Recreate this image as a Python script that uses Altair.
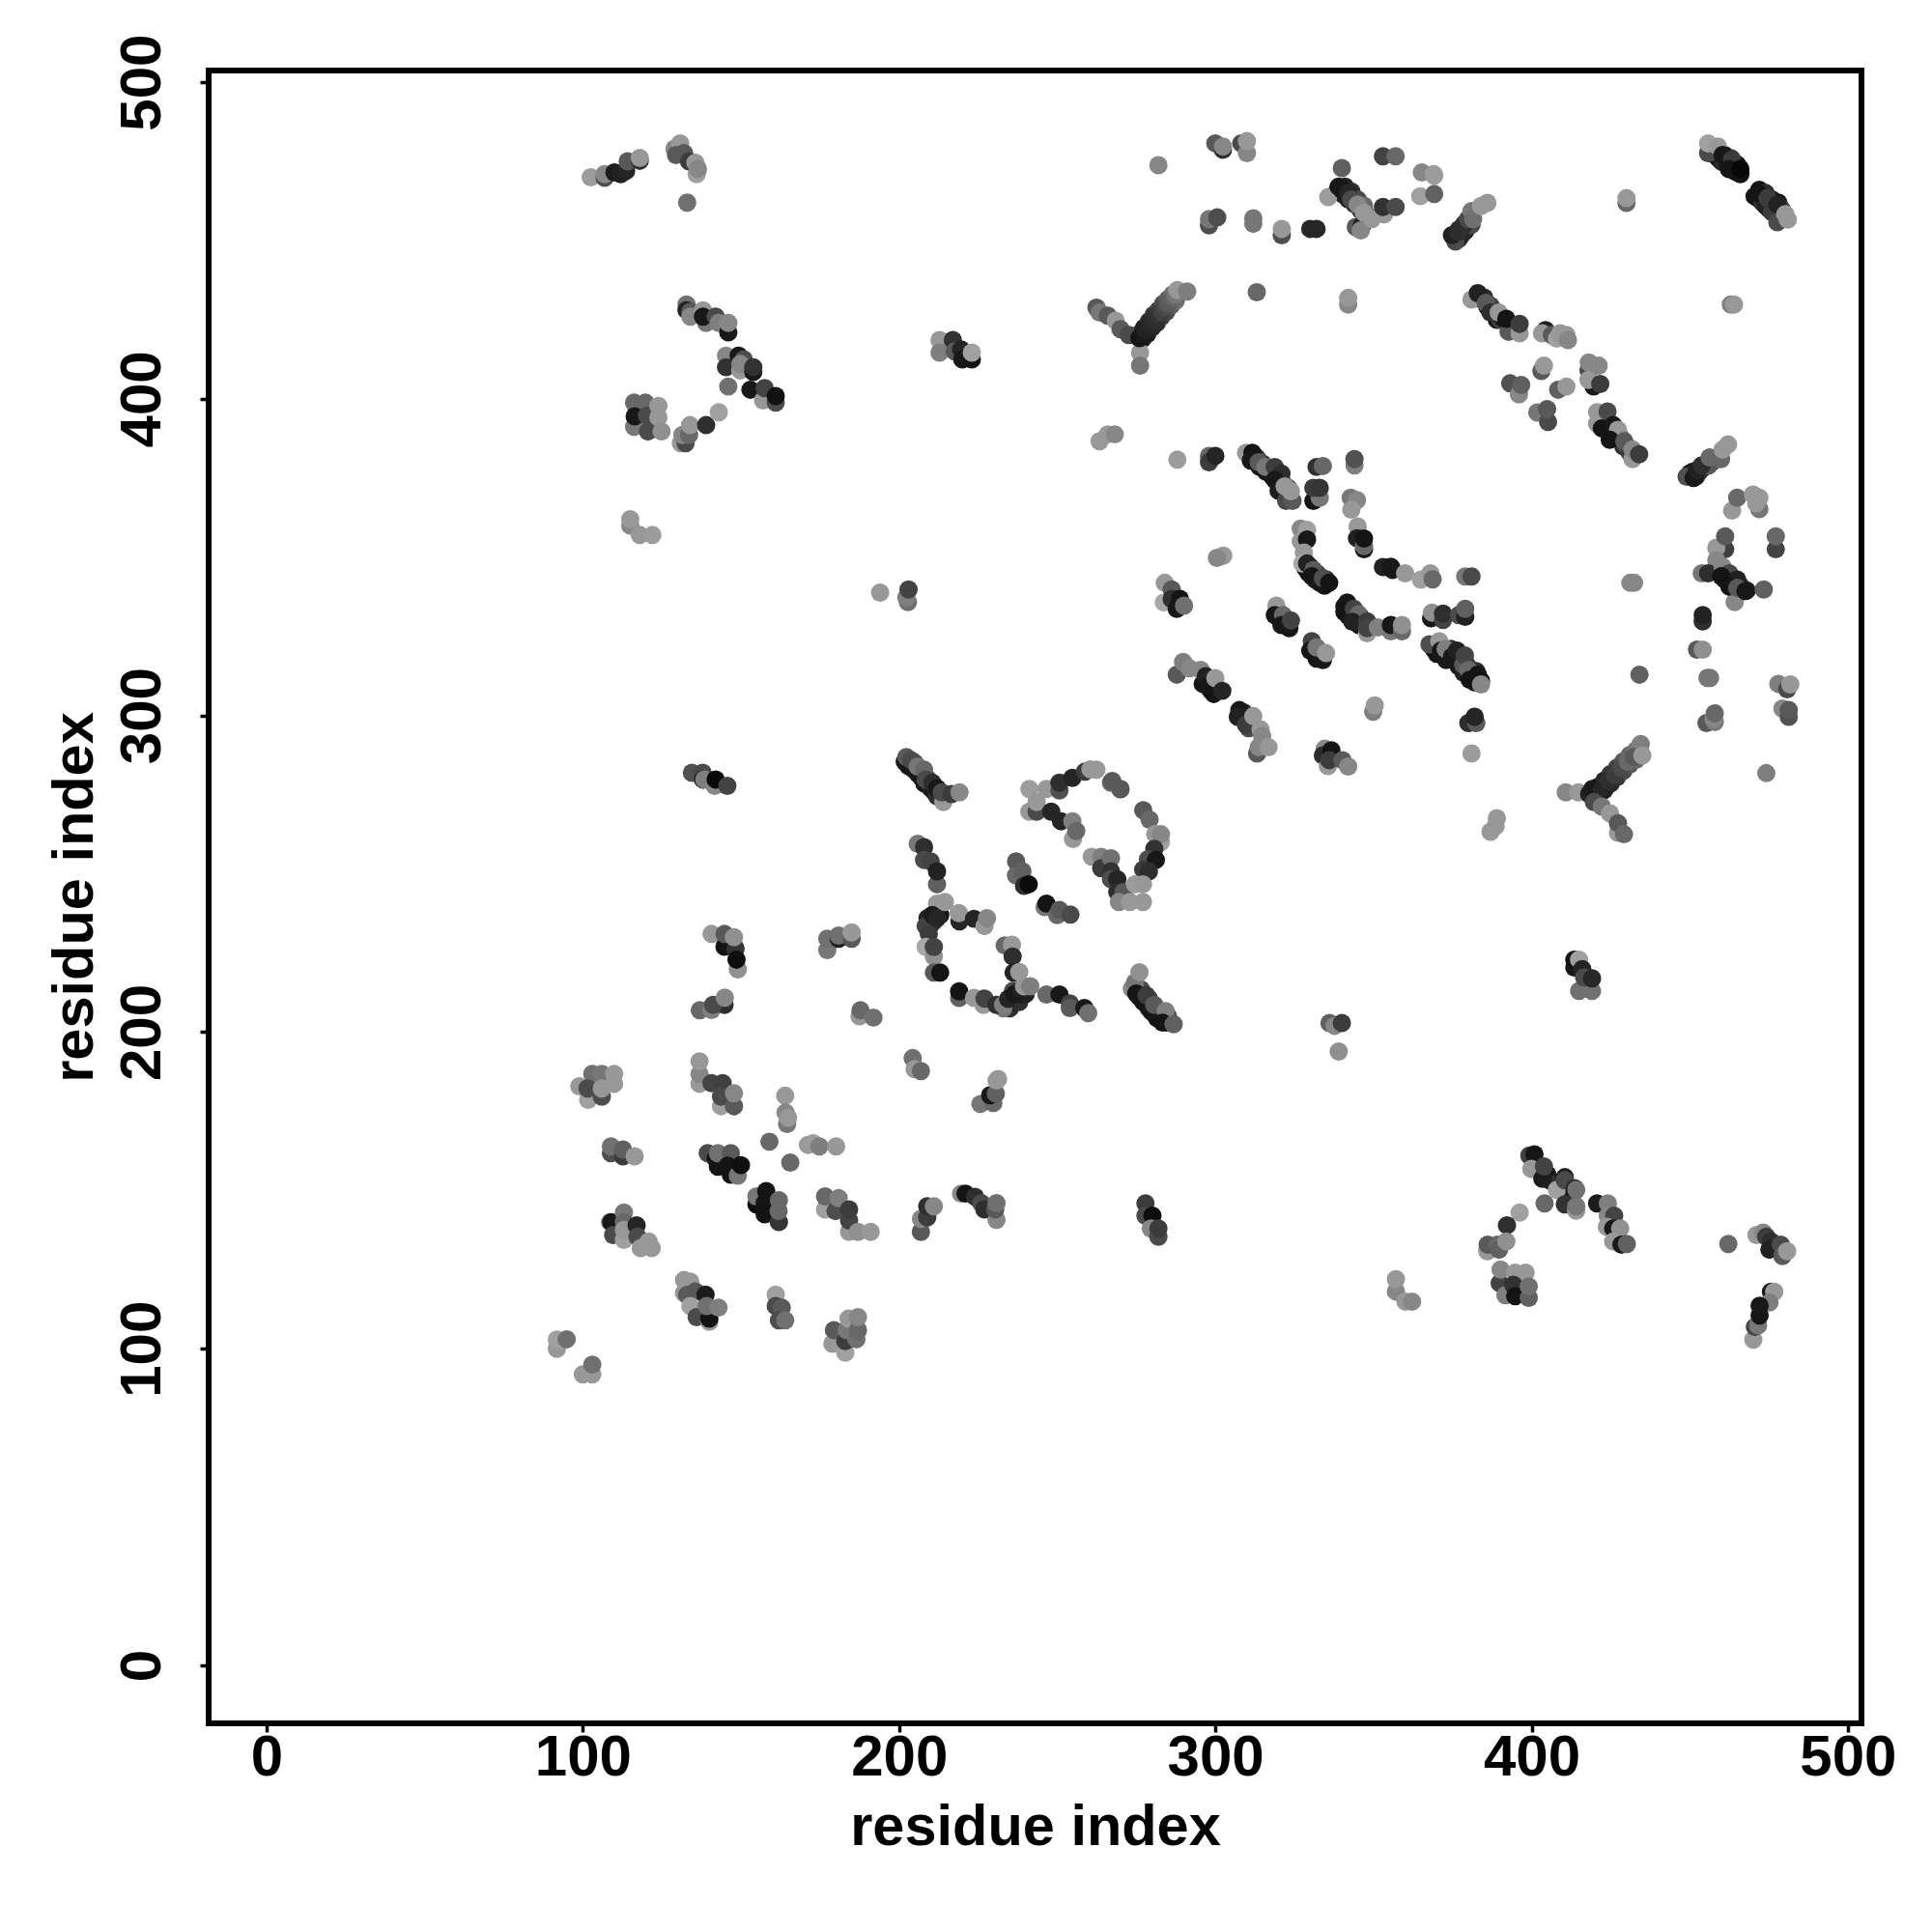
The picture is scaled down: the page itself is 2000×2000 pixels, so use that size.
import altair as alt
import pandas as pd

# (residue x, residue y, grey level 0-255), region by region
# Contacts inside the dense diagonal strips; they lie underneath the rest.
dense_strips = [
 (457,478,0x40),(458,477,0x15),(459,476,0x10),(460,475,0x20),(461,474.5,0x30),(462,474,0x15),(463,473,0x10),(464,472,0x05),(465,471.5,0x08),(466,471,0x10),
 (459,478,0x20),(461,477,0x10),(463,476,0x30),(465,474,0x08),
 (470.5,464,0x10),(472,463,0x10),(473,462,0x30),(474,461,0x20),(475,460,0x25),(476,459,0x40),(472,466,0x10),(474,465,0x30),(476,463,0x20),(478,462,0x10),(479,460,0x50),(478,458,0x40),
 (276,420.5,0x18),(277.5,422.5,0x22),(279,424.5,0x30),(280.5,426.5,0x38),(282,428,0x45),(283.5,430,0x58),(285,431.5,0x68),(286.5,433,0x78),
 (277,419,0x12),(278.5,420.5,0x1a),(280,422.5,0x25),(281.5,424,0x30),(283,426,0x40),(284.5,427.5,0x50),(286,429.5,0x65),(287.5,431,0x78),
 (421,277.5,0x20),(423,279.5,0x28),(425,281.5,0x38),(427,283.5,0x48),(429,285.5,0x60),(431,287.5,0x70),(433,289,0x80),
 (423,276.5,0x1a),(425,278.5,0x28),(427,280.5,0x38),(429,282.5,0x50),(431,284.5,0x60),(433,286,0x70),
 (376,451,0x18),(377,450.5,0x30),(378,452,0x20),(379,453,0x28),(380,454.5,0x30),(381,455,0x50),(377,453.5,0x30),(379,455.5,0x38),
 (384,431.5,0x15),(385,432,0x30),(386,429,0x15),(387,429.5,0x50),(388,428,0x40),(389,425,0x10),(390,425,0x40),(391,425.5,0x10),(393,423,0x10),(394,423,0x30),(395,421.5,0x10),
 (423,393,0x10),(424,392,0x15),(425,390,0x10),(426,389,0x20),(427,388,0x15),(428,388,0x50),(429,385,0x30),(430,385,0x50),(431,383,0x40),
 (450,376.5,0x30),(451,377,0x18),(452,375.5,0x30),(453,377,0x20),(454,378,0x30),(455,379,0x40),(456,379,0x60),(457,380,0x60),
 (311,382,0x15),(313,381.5,0x40),(314,378.5,0x10),(315,379.5,0x30),(316,377,0x15),(317,378,0x60),(318,375.5,0x15),(319,376.5,0x30),(320,373,0x15),(321,374,0x30),(322,371,0x15),(323,372,0x70),
 (328.5,346.5,0x15),(330,347,0x30),(329.5,345,0x10),(332,345,0x40),(331.5,343,0x10),(333,344,0x30),(335,343,0x30),(334.5,341,0x10),
 (340.8,334.5,0x15),(342,334,0x30),(342,331.5,0x10),(344,332,0x20),(344,330.5,0x15),(346,331,0x30),(345.5,328.5,0x10),(347,329,0x30),
 (369,321,0x10),(370,319.5,0x10),(372.5,319,0x15),(373,317.5,0x15),(374.5,321,0x30),(376,317,0x20),(377,315.5,0x15),(378.5,313.5,0x20),(379.5,316,0x40),(381,312,0x15),(382,310.5,0x10),(382.5,314,0x30),(384,311,0x15),
 (296,310,0x15),(298,310,0x20),(298.5,308,0x10),(300,309,0x15),(308.5,299,0x20),(309,301,0x30),(310.5,296,0x50),
 (203,284,0x10),(204.5,283,0x15),(205,285,0x50),(206,281.5,0x15),(207,280.5,0x15),(208,278.5,0x15),(209,280,0x50),(210,277,0x20),(211,276,0x15),(212,274.5,0x30),(214,274.5,0x30),
 (275,214.5,0x10),(276,211,0x10),(276.5,213.5,0x50),(278,209,0x15),(279,207.5,0x10),(279,210.5,0x40),(280.5,206,0x10),(281.5,204.5,0x10),(282,207,0x50),(284.5,203,0x15),(285,205,0x50),
 (338.5,465.5,0x10),(340.5,464.5,0x18),(341,467,0x20),(342,463,0x20),(343,465.5,0x30),(344,461.5,0x30),(345,463,0x50),(346,459.5,0x40),(347,461,0x70),(348,458,0x60),
 (405,155,0x10),(406,153,0x15),(408,152,0x30),(409,150,0x15),(411,149,0x15),(412,147,0x30),
 (234,209,0x25),(235,207.5,0x30),(236,209.5,0x15),(237,211,0x20),(238,209.5,0x30),(239,212,0x15),(240,212,0x20),(236,213,0x50),
 (209,236,0x25),(210,234,0x15),(211,235,0x30),(212,238,0x30),(213,237,0x15),(209.5,233,0x35),
 (461,343,0x10),(463,342,0x15),(464,340,0x10),(466,341,0x30),(466,339,0x10),(468,339.5,0x20),
]
top_left = [
 (102.5,470,0xa4),(106.9,469.8,0x55),(106.9,471,0x90),(110,471.5,0x1a),(112,471,0x20),(113.7,472,0x25),
 (114.2,475,0x60),(118,475.2,0x30),(118,476.1,0xa0),
 (129,479,0x90),(130.8,480.7,0xa0),(129.5,477,0x60),(132,477.6,0x60),(133.6,475,0x40),(135.6,474.6,0xa0),
 (136,471,0xa8),(136.4,472.6,0x90),(133,462,0x78),
 (132.8,429.8,0x78),(132.8,428,0x20),(134,427.5,0x60),(134,426,0x90),(138,428,0xa0),(139,424,0x80),(138,426,0x15),
 (142,426,0x50),(143,424,0x88),(146,421,0x15),(146,424,0x90),
 (145.3,413.6,0x90),(145.3,410,0x35),(149.8,409,0xa0),(149.3,413.6,0x15),(150.9,412.5,0x55),(149.8,411,0x90),
 (153.9,408.5,0x15),(153.9,410,0x35),(146,403.9,0x78),(153,402.9,0x15),(157,399.5,0xa0),(157.5,403.4,0x48),
 (161,398.8,0x50),(161,400.9,0x0e),
 (116.2,398.8,0x70),(119.8,398.8,0x70),(116.2,391.2,0x80),(116.4,394.5,0x15),(120.3,394.7,0x50),(120.6,389.7,0x50),
 (123.9,397.8,0xa0),(123.9,394.2,0xa0),(124.9,389.7,0x98),
 (131,386,0xa0),(132.5,386,0x50),(131.5,388.6,0x90),(133.6,388.6,0x70),(133.9,391.7,0xa0),(139,391.7,0x30),(143,395.8,0xa8),
 (115,360,0x90),(115,362,0xa0),(118,357,0xa0),(122,357,0xa4),
 (212.8,418.6,0xa0),(212.8,414.6,0x88),(217,418.6,0x35),(217.6,415,0x60),(219.6,415.6,0x25),(220,412.5,0x15),
 (223,412.5,0x10),(223,414.6,0xa8),
]
top_middle = [
 (282,473.8,0x90),(300,480.7,0x60),(302.4,478.7,0x30),(302.4,479.7,0x90),(308.2,480.7,0x50),(310,477.6,0x90),(310,481.4,0xa0),
 (298,454.8,0x55),(298,456.8,0x80),(300.6,457.3,0x55),(312,455.3,0x80),(312,457,0x80),(321,451.7,0x55),(321,453.7,0xa0),
 (330,453.7,0x28),(332,453.7,0x28),(340,472.9,0x68),(335.7,463.7,0xa4),
 (339,467,0x15),(340,466,0x15),(342,465,0x25),(344.4,454.3,0x60),(346.4,454.8,0x20),(346,453.2,0x90),
 (343,463,0x50),(345,461.4,0x90),(347,458.8,0xa0),(349.5,456.8,0xa0),
 (353,476.6,0x48),(357,476.6,0x70),(353.4,458.3,0xa0),(353,460.6,0x35),(357,460.6,0x50),
 (365.3,471.5,0x90),(369,471,0xa0),(369.2,470.5,0xa4),(364.8,464,0xa8),(369.2,464.7,0x6a),
 (262.4,428.8,0x60),(263.4,427.3,0x80),(266,426.3,0x60),(268.5,424.7,0xa0),(270,422,0x60),(272.6,420.2,0x50),
 (276.2,414.6,0xa0),(276.2,410.5,0x80),
 (276,419.2,0x10),(277,420.5,0x15),(278,421.5,0x20),(279,423,0x25),(280,424,0x2a),(281,425,0x30),(282,426.5,0x35),
 (283,427.5,0x45),(284,429,0x50),(285,430,0x60),(286,431,0x65),(287,432,0x70),(287.5,433,0x80),(288,434.4,0xa0),(291.1,433.9,0x88),
 (313.1,433.7,0x70),(342,429.8,0x90),(342,431.9,0xa0),
 (263.4,386.6,0xa0),(266,388.8,0xa0),(268.2,388.8,0x90),
 (288,380.8,0xa4),(298,382,0x70),(298,380,0x40),(300,382,0x25),
 (309.7,383,0xa0),(311.7,383,0x10),(311.2,380.5,0x15),(313.7,380,0x60),(315.8,378.5,0x80),(318.8,378.5,0x40),
 (320.9,376.4,0x30),(318.8,374.4,0x15),(320,371,0x1a),(322.4,367.8,0x50),(324.4,367.8,0x60),(321.9,372.4,0xa0),(323.9,370.8,0xa0),
 (331,367.8,0x10),(333,368.8,0x80),(331,371.9,0x40),(333,371.9,0x38),(332,378.5,0x35),(334,378.8,0x70),
 (344,379,0x88),(344,381,0x58),
]
top_right = [
 (375.9,449.7,0x50),(374.8,451.7,0x20),(376.9,452.7,0x30),(378.4,454.8,0x30),(379.9,456.8,0x50),(381,459.3,0x80),
 (381.5,456.8,0x78),(384,460.9,0xa0),(386,461.9,0xa0),
 (430,461.9,0x70),(430,463.4,0xa0),
 (455.8,477.6,0x50),(455.8,480.7,0xa8),(458.9,479.7,0xa0),(460.4,477,0x15),(463.4,475.6,0x40),(462.4,472.6,0x10),(466,472.6,0x05),
 (471.6,465,0x10),(474.6,463.4,0x40),(477.7,461.4,0x20),(477.7,455.8,0x50),(480.2,458.3,0xa0),(481,456.6,0xa0),
 (463,429.8,0x88),(464,429.8,0xa0),
 (381,431.4,0xa0),(383,433.4,0x20),(385.5,430.3,0x60),(387,427.3,0x30),(389.6,427.3,0xa0),(392.7,421.2,0x60),
 (392,425.3,0x10),(396.2,420.7,0xa0),(396.2,423.7,0x40),
 (404.4,421.7,0x20),(403.3,420.7,0xa0),(406.4,420.2,0x60),(408,419,0xa8),(409,420.7,0xa0),(411,420.2,0xa0),(411.5,418.6,0x90),
 (403.1,408.8,0x60),(403.9,410.5,0xa0),(393.2,404.9,0x58),(396,401.4,0x90),(396.7,404.4,0x68),
 (408.4,402.9,0x68),(411,403.9,0xa0),(401.8,395.7,0x80),(405.2,392.7,0x50),(404.9,396.8,0x60),
 (418,409,0x50),(418.1,411.5,0x90),(421.2,410.5,0x90),(419.6,403.9,0x15),(418,406,0xa0),(421.7,404.7,0x40),
 (420.7,395.8,0xa0),(420.7,392.2,0xa0),(424,396,0x50),(422.2,390.7,0x10),(425.8,391.7,0x15),(427.3,390.2,0xa0),
 (424.7,387.1,0x10),(429.3,386.6,0x60),(431.9,381,0xa0),(431.9,384,0x90),(434,382.5,0x40),
 (449,375.4,0x58),(451.2,375,0x15),(452.2,377.4,0x20),(453.8,379,0x30),(456.3,381.5,0x70),(459.9,381,0x70),(460.4,384,0xa0),(462.1,385.6,0xa0),
 (463.4,364.7,0xa0),(465,368.8,0x70),(470,369.8,0xa0),(472,365.2,0x80),(471,367,0xa0),(472,368.8,0xa0),
 (461.2,352.5,0x45),(458.4,353,0xa0),(461.2,356.6,0x60),(477.2,352.5,0x48),(477.2,356.6,0x70),
 (458.4,349,0x90),(453.8,344.9,0x80),(455.8,344.9,0x30),(464.2,335.8,0x90),(460.4,347,0x90),(462.5,344.9,0x50),(460,344,0x10),
 (465,342.9,0x20),(462.5,340.8,0x10),(465,340.3,0x60),(467.6,339.3,0x15),(473.4,339.8,0x68),
 (454.1,329.7,0x30),(454.1,331.7,0x22),(452.3,320.8,0x60),(454.1,320.8,0x98),
 (431.2,341.9,0x90),(432.4,341.9,0x90),(434.1,312.9,0x68),(455.6,311.9,0x80),(456.4,311.9,0x80),
 (455.3,297.6,0x60),(457.9,298,0x80),(457.5,299,0x90),(457.9,300.7,0x70),
 (478,310,0x88),(480.8,308.3,0x50),(481.8,309.8,0xa0),(479.3,302.2,0x90),(481.3,299.6,0x58),(481.3,301.7,0x60),(474.2,281.8,0x88),
]
centre = [
 (302.5,350.5,0xa0),(300.5,349.8,0x90),(284,341.9,0xa0),(283.7,335.7,0xb0),(286.2,339.8,0x60),(286.2,336.8,0x30),
 (288.8,336.8,0x10),(287.8,333.7,0x15),(290.1,334.7,0x78),
 (327,359,0x90),(327,355,0xa0),(329,358.6,0xa8),(329,355.6,0x15),(328,351.5,0xa0),(327.5,348,0xb0),
 (329,348,0x20),(331,346,0x60),(330.5,344,0x10),(333,341.9,0x15),(334,343.4,0x55),(336,341.9,0x10),
 (342.8,368.8,0x80),(344.8,368,0x90),(343,365,0xa0),(345,359.7,0xa0),(344.8,356,0x20),(347,352.5,0x15),(347,353.5,0x70),(347,355.9,0x10),
 (353,346.9,0x20),(355.5,347,0x15),(356,346,0x15),(360,344.9,0xa0),(365,342.9,0xa8),(368,344.9,0xa0),(368.7,343,0x70),
 (379,343.9,0x80),(381,343.9,0x50),
 (341.7,335.7,0x15),(340.8,332.7,0x10),(343.8,333.7,0x48),(345.3,332,0x70),(343.3,329.6,0x20),(348,326,0xa0),(348,329.7,0x40),
 (348,327.6,0x48),(351.4,327.8,0x88),(355.5,326.6,0x80),(355.5,328.6,0x15),(359,326.6,0x70),(359,328.6,0x98),
 (319.3,334.7,0xa0),(318.8,331.7,0x15),(321.4,331.7,0x70),(320.9,328.6,0x15),(323.4,327.6,0x15),(323.9,330,0x48),
 (330.5,323.5,0x48),(330,320.5,0x15),(332,318,0x10),(334,317.5,0x15),(332,321.5,0x80),(335,319.7,0xa0),
 (368.2,330.7,0x15),(368.5,332.5,0x98),(372,330.2,0x48),(372,332.2,0x30),(377,331.7,0x50),(379,331.2,0x20),(379,333.7,0x68),
 (367.7,322.5,0x55),(370.8,323.5,0xa0),(371.3,320.5,0x15),(372.8,321,0x88),(374.8,318.5,0x15),(376.4,320.5,0x20),(378.4,316,0x60),
 (378.9,319,0x48),(380,314.4,0x70),(380.4,311.3,0x10),(383,312.9,0x10),(384,309.8,0x90),
 (380,297.6,0x30),(382.5,297.6,0x60),(382,299.6,0x25),(349.9,301.2,0x88),(350.4,303.2,0xa0),(381,288,0xa4),
 (287.8,312.9,0x60),(289.8,316.9,0x88),(291.8,314.9,0x90),(295.4,314.4,0x90),(297,312.4,0x20),(297.5,309.3,0x15),
 (299.5,306.8,0x10),(300,311.8,0xa0),(302.2,307.8,0x25),
 (307.6,301.7,0x15),(307.1,299.6,0x20),(309.7,297.1,0x40),(313.2,288,0x60),(313.7,290,0x90),(312,299.8,0xa0),(314.3,295.6,0xa0),(314.8,293.5,0x90),(316.8,290,0xa0),
 (334.6,289.5,0x90),(334,287.4,0x30),(335.6,284,0xa0),(336.7,289,0x10),(336,285.9,0x40),(340.2,285.9,0x60),(342,283.9,0x90),
 (389,267.6,0xa0),(388.6,265,0xa0),(387,263.3,0xa0),
 (410.8,275.7,0x90),(414.8,275.7,0xa0),
 (434.5,291,0x88),(418.2,275.2,0x20),(419.2,276.8,0x15),(422.2,276.8,0x25),(424.3,279.3,0x30),(426.3,281.3,0x40),(428.4,283.4,0x50),
 (430.4,285.4,0x70),(432.4,286.9,0x60),(435,287.4,0xa0),
 (419.7,272.7,0x50),(422.2,271.2,0x80),(424.8,269.1,0xa0),(427.3,263,0xa0),(427.3,266,0x60),(429.2,262.5,0x70),
]
middle_left = [
 (194,338.8,0xa0),(202.8,335.8,0x78),(202.3,337.3,0x88),(203,339.8,0x48),
 (134.5,281.9,0x58),(137.9,281.9,0x50),(138,279.8,0x10),(138.4,279.8,0x88),(141.7,277.8,0x90),(142,279.8,0x05),(145.7,277.8,0x48),
 (201.8,285.4,0x15),(202.3,286.9,0x60),(203.8,285.9,0x50),(205.9,283.9,0x80),(207.9,282.9,0x70),(208.4,279.8,0x50),
 (210.5,278.8,0x30),(214,272.7,0xa0),(212,277,0x15),(213.5,275.7,0x50),(216.6,275.2,0x40),(219.1,275.7,0x90),
 (241.2,276.8,0xa4),(241.2,269.6,0xa0),(243.5,269.6,0x50),(243.5,272.7,0xa0),(246.6,276.8,0xa0),(248.1,269.6,0x25),
 (250.7,276.3,0x58),(250.7,278.8,0x30),(251.2,266.6,0x25),(255,261,0xa0),(254.8,266.6,0x88),(256,263.5,0x70),(254.8,280.3,0x25),
 (258.8,282.3,0x40),(260.5,283,0xa0),(262.4,282.9,0xa0),(267,278.8,0x70),(270,276.8,0x60),
 (277.2,270.1,0x60),(279.2,267.1,0x70),(282.8,260,0xa8),(281,262.5,0xa0),(282.8,262.5,0x90),(280.7,257.9,0x35),(278.7,254.6,0x55),
 (281.2,254.4,0x15),(277.2,251.3,0x40),(279,250.8,0x30),
 (260.9,255.4,0xa0),(263.9,255.4,0x88),(263.9,251.8,0x40),(267,254.9,0x78),(267,250.8,0x35),(267,248.3,0x55),(269,248.3,0x25),
 (269,244.2,0x30),(271,244.2,0x60),(269.5,241.1,0x90),(274.6,246.7,0xa4),(277.1,246.7,0xa0),(273,241.1,0xa0),(277.1,241.1,0xa0),
 (205.9,259.5,0x80),(207.9,258.4,0x30),(207.9,254.4,0x50),(210,253.9,0x48),(212,246.7,0x68),(212,250.8,0x20),
 (237,253.9,0x60),(237,249.5,0x70),(239,250.8,0x68),(239.5,246.2,0x30),(241,246.7,0x08),
 (246,239.5,0x80),(246.6,240.6,0x10),(250,237,0x70),(250.7,238.6,0x60),(254.2,237.1,0x50),
 (212,240.6,0xa0),(214.5,241.1,0xa0),(208.4,233.5,0x48),(209.4,231,0x40),(210.5,237,0x1a),(212,236,0x25),
 (219.1,235,0x25),(218.9,237.6,0xa0),(223.7,235.8,0x25),(227,233.5,0xa0),(227.8,236,0x90),
 (208.4,226.9,0xb0),(211,223.9,0x98),(211,226.9,0x48),(211,218.8,0x60),(213,218.8,0x10),
 (219,210.8,0x68),(219,212.9,0x10),(223.7,210.8,0xa0),(226.7,208.6,0xa0),(227,210.6,0x48),
 (233.4,227.4,0x70),(235.7,227.6,0xa0),(235.9,223.9,0x30),(236.2,218.8,0x25),(238,219,0xa0),
 (233,207.5,0x80),(230.8,208.6,0x30),(232.9,208.6,0x88),(234.5,210.5,0x25),(236.5,212,0x15),(238.5,213.5,0x20),(239.5,214.5,0xa0),(241.5,214.5,0x88),
 (246.6,211.9,0x70),(250.7,211.9,0x15),(254,209.1,0x48),(254,207.6,0x60),(258.6,207.6,0x15),(259.8,206,0x78),
 (273.6,213.7,0x90),(274.6,215.7,0x80),(276,218.9,0x98),(275,212.2,0x10),(277.2,209.6,0x10),(278.2,211.6,0x40),(279.7,206.6,0x15),
 (280.7,208.6,0x60),(284.3,206.6,0x88),(283.3,203,0x10),(286.8,202.5,0x68),
 (336.1,202.9,0x68),(337.7,202,0x90),(340,202.9,0x40),(339,193.9,0x98),
 (413.5,220.4,0x15),(413.5,222.9,0x10),(415,213,0x78),(419.1,213,0x78),(415,222.9,0xa8),(416,219.9,0x25),(416.6,217.3,0x50),(419.1,217,0x2a),
]
bottom_left = [
 (140.7,231,0xa0),(144.8,227,0x10),(144.8,231,0x60),(149,219.8,0x98),(148.3,226.4,0x38),(147.8,230,0x98),(148.6,222.9,0x0a),
 (177.3,225.9,0x80),(177.3,229.5,0x78),(180.9,229.5,0x20),(180.9,230.5,0x78),(185,229.5,0x60),(185,231.5,0xa0),
 (137,206.9,0x70),(140.7,207,0x88),(144.8,208.6,0x30),(141.2,208.6,0x50),(144.9,210.9,0x90),
 (187.5,205,0xa0),(187.8,206.9,0x70),(191.9,204.6,0x78),
 (204.3,191.8,0x78),(204.9,188.3,0xa0),(206.9,187.7,0x70),
 (225.7,177.3,0x80),(229.8,177.6,0x70),(228.8,180.1,0x15),(230.6,180.6,0x68),(230.8,184.7,0xa0),(231.3,185.2,0xa0),
 (136.9,183.7,0xa0),(136.9,186.8,0x90),(136.9,190.8,0xa0),(140.7,183.9,0x48),(144.2,183.9,0x45),(143.7,176.6,0xa8),(143.7,179.6,0x50),
 (147.8,176.6,0x60),(147.8,180.7,0x90),
 (98.9,182.9,0xa0),(103,186.8,0x78),(106,186.8,0x80),(101.7,178.6,0xa8),(101.5,182.2,0x50),(106,179.6,0x55),(106,182.2,0xa0),
 (109.9,186.8,0xa0),(109.9,183.7,0xa0),
 (108.9,161.8,0x55),(108.9,163.9,0x78),(112.7,160.8,0x40),(112.7,162.9,0x68),(116.4,160.8,0xa0),
 (139.5,161.8,0x50),(142.7,157.5,0x10),(142,160,0x10),(142.7,161.8,0x78),(146.8,161.8,0x60),(145.8,157.8,0x10),(146.8,155,0x10),(149,154.7,0x80),(150,158,0x0c),
 (164,179.9,0xa0),(164.6,171,0x80),(164.1,174.6,0x90),(164.9,173,0xa0),(159,165.4,0x70),(165.6,158.8,0x70),
 (171.2,164.4,0xa0),(172.8,164.9,0xa4),(174.8,163.9,0x88),(180.1,163.9,0xa0),
 (154.9,145.6,0x0a),(154.9,148.1,0x80),(158,149.8,0x10),(157.5,146,0x10),(157.5,142.5,0x10),(162,140,0x38),(161.9,143.5,0x70),(162,146.9,0x70),
 (176.6,144,0xa8),(176.6,148.1,0x70),(179.9,143.5,0x55),(180.9,147.6,0x88),(184.2,136.9,0xa0),(184.2,140.5,0x48),(184.2,144,0x40),(187,136.9,0x98),(191,136.9,0xa0),
 (206.9,136.9,0x60),(206.9,141,0x90),(208.9,141.5,0x40),(208.9,145,0x30),(211,145,0x90),(219.6,149,0x90),(221,149,0x10),(224,148,0x30),(226,146,0x50),(227,144,0x30),
 (230.8,140.7,0x90),(230.4,144,0x60),(230.8,146,0x78),
 (108.6,140,0xa0),(109,140,0x15),(113,143,0x80),(109.6,135.9,0x50),(113,140,0x70),(113,134.4,0xa8),(113,137.5,0xa0),(117,139,0x25),(117.3,135.4,0x50),
 (118.3,131.8,0xa0),(120.8,133.9,0xa0),(121.8,131.8,0xa0),
 (132,121.7,0xa0),(134,121.2,0xa0),(132,117.6,0xa0),(133,117,0x60),(135.6,118.1,0x60),(134,113.5,0xa8),(138.8,117.1,0x1a),
 (136,110,0x50),(140,108.5,0xa0),(140,109.5,0x0f),(139.2,113.5,0x78),(142.9,113,0x88),
 (161,117.1,0xa8),(161,113.5,0x50),(162.9,113,0x60),(162,109,0x55),(164,109,0x78),
 (178.9,101.6,0xa0),(179.4,105.9,0x60),(183,98.8,0xa8),(183,102.4,0x40),(183.4,105.9,0x80),(184,109.5,0xa0),(186.5,103,0x78),(187,105.9,0x70),(187,110,0x90),
 (91.8,100,0xa0),(91.8,102.9,0xa8),(94.9,103,0x78),(100,91.9,0xa0),(103,91.9,0xa0),(103,95,0x78),
]
bottom_right = [
 (267.4,279.3,0x60),(270,276.7,0x60),
 (277.9,145.9,0x40),(277.9,142,0x50),(280.1,142,0x0a),(279.6,138,0x90),(282,135.4,0x50),(282,138,0x40),
 (399.3,161,0x45),(400.9,161.4,0x12),(399.9,156.8,0xa0),(403.4,153.7,0x1a),(403.9,157.6,0x48),(408,150.2,0xa8),(410.5,154.2,0x20),
 (410.5,153.2,0x50),(413.6,150.7,0x30),(413.6,149.7,0x0f),(410.5,145.6,0x35),(414.1,143.6,0xa0),(414.1,145,0x80),(414.1,150.2,0x78),(404.1,145.9,0x70),
 (420.7,145.9,0x1a),(424.1,145.9,0x88),(424.1,142,0x90),(426.1,142,0x48),(423.8,138.5,0xa0),(425.8,138,0x15),(428,138,0x98),
 (425.8,133.9,0xa0),(428.4,132.9,0x15),(430.1,133.1,0x68),
 (396.2,143,0xa8),(392.2,139,0x30),(386,130.8,0xa0),(386.1,132.9,0x60),(389.2,132.9,0x70),(389.7,131.3,0x68),(392,133.9,0x98),
 (389.9,120.7,0x48),(391.7,116.9,0x88),(390.2,125,0x90),(394.8,124,0xa0),(398.1,124,0xa0),(394.2,120.2,0x35),(394.8,116.6,0x10),(399.1,116.1,0x68),(399.1,119.7,0x78),
 (357.1,118.1,0x90),(357.1,122,0xa0),(360.1,114.9,0xa0),(362.2,114.9,0x90),
 (462.2,133.1,0x70),
 (471.1,135.9,0xa0),(473.2,136.7,0x90),(474.2,135.4,0x40),(475.7,133.9,0x30),(475.2,131.3,0x20),(478.8,132.9,0x50),(479.3,129.3,0x60),(480.8,130.8,0xa0),
 (475.7,118,0x15),(476.7,118,0xa0),(475.2,114.6,0x88),(470.1,102.9,0xa0),(470.6,106.9,0x48),(471.6,107.4,0x80),(472.1,110.5,0x12),(472.1,113.6,0x15),
]

tick_values = [0, 100, 200, 300, 400, 500]
axis_label = "residue index"

rows = dense_strips + top_left + top_middle + top_right + centre + middle_left + bottom_left + bottom_right
df = pd.DataFrame(rows, columns=["x", "y", "grey"])
df["order"] = range(len(df))

font = "Liberation Sans"
chart = (
    alt.Chart(df)
    .mark_circle(size=360, opacity=1)
    .encode(
        x=alt.X("x:Q", scale=alt.Scale(domain=[-18.3, 504.3], nice=False, zero=False),
                axis=alt.Axis(values=tick_values, title=axis_label, grid=False, domain=False,
                              tickSize=9, tickWidth=3.5, tickColor="black",
                              labelFont=font, labelFontWeight="bold", labelFontSize=60, labelColor="black",
                              labelPadding=-2.5, labelFlush=False, labelOverlap=False,
                              titleFont=font, titleFontWeight="bold", titleFontSize=59.5, titleColor="black",
                              titlePadding=13)),
        y=alt.Y("y:Q", scale=alt.Scale(domain=[-18.3, 503.7], nice=False, zero=False),
                axis=alt.Axis(values=tick_values, title=axis_label, grid=False, domain=False,
                              tickSize=9, tickWidth=3.5, tickColor="black",
                              labelFont=font, labelFontWeight="bold", labelFontSize=60, labelColor="black",
                              labelAngle=270, labelAlign="center", labelBaseline="bottom",
                              labelPadding=28.5, labelFlush=False, labelOverlap=False,
                              titleFont=font, titleFontWeight="bold", titleFontSize=59.5, titleColor="black",
                              titlePadding=10.5)),
        color=alt.Color("grey:Q", scale=alt.Scale(domain=[0, 255], range=["#000000", "#ffffff"]), legend=None),
        order=alt.Order("order:Q"),
    )
    .properties(
        width=1711, height=1711,
        autosize=alt.AutoSizeParams(type="none"),
        padding={"left": 208, "top": 65, "right": 60, "bottom": 200},
        background="white",
    )
    .configure_view(stroke="black", strokeWidth=6)
)
chart.save("out.html", embed_options={"renderer": "svg", "actions": False})
